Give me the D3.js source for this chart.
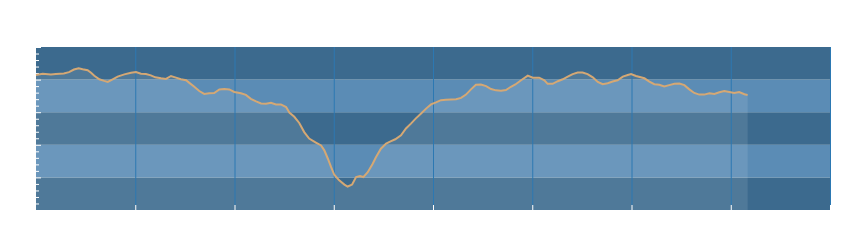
<!DOCTYPE html>
<html>
<head>
<meta charset="utf-8">
<script src="https://cdn.jsdelivr.net/npm/d3@7"></script>
<style>
  body { margin: 0; background: #fff; }
  .axis path { display: none; }
  .axis line { stroke: #fff; }
  .grid line { stroke: #2c78b2; }
</style>
</head>
<body>
<div id="chart"></div>
<script>
const xs = [0, 1.35, 3.0, 4.0, 5.6, 6.65, 7.65, 8.6, 9.4, 10.4, 11.1, 11.75, 12.75, 13.75, 14.45, 15.45, 16.45, 17.8, 19.15, 20.15,
  21.15, 22.15, 23.15, 24.05, 25.2, 26.2, 27.2, 28.2, 29.2, 30.25, 30.9, 31.9, 32.9, 33.9, 34.9, 35.9, 36.95, 37.95, 38.95, 39.95,
  41.3, 42.3, 43.3, 44.35, 45.35, 46.35, 47.35, 48.35, 49.35, 50.4, 51.05, 52.05, 53.05, 54.05, 55.05, 56.4, 57.45, 58.1, 58.8, 59.45,
  60.1, 61.1, 62.15, 62.8, 63.7, 64.5, 65.3, 65.95, 66.85, 67.85, 68.5, 69.5, 70.55, 71.55, 72.4, 73.55, 74.55, 75.55, 76.55, 77.6,
  78.6, 79.6, 80.6, 81.6, 82.6, 83.65, 84.65, 85.65, 86.65, 87.65, 88.65, 89.65, 90.7, 91.7, 92.7, 93.7, 94.7, 95.7, 96.6, 97.75,
  99.1, 100.1, 101.4, 102.45, 103.1, 104.1, 105.15, 106.15, 107.15, 108.15, 109.15, 110.15, 111.15, 112.2, 113.2, 114.2, 115.2, 116.2, 117.2, 118.25,
  119.25, 119.9, 120.9, 122.6, 123.6, 124.6, 125.6, 126.6, 127.6, 128.65, 129.65, 130.65, 131.65, 132.65, 133.65, 134.65, 135.7, 136.7, 137.7, 138.7,
  139.7, 140.7, 141.7, 142.75, 143.4];
const values = [20.7, 20.9, 20.8, 20.85, 20.95, 21.15, 21.55, 21.75, 21.6, 21.45, 21.05, 20.6, 20.05, 19.8, 19.65, 20.05, 20.45, 20.8, 21.05, 21.15,
  20.9, 20.85, 20.65, 20.35, 20.2, 20.1, 20.55, 20.3, 20.05, 19.9, 19.5, 18.9, 18.25, 17.8, 17.9, 17.95, 18.5, 18.55, 18.5, 18.1,
  17.9, 17.65, 17.05, 16.65, 16.35, 16.3, 16.45, 16.2, 16.2, 15.8, 14.95, 14.3, 13.35, 11.95, 10.95, 10.35, 9.9, 9.15, 7.9, 6.6,
  5.4, 4.55, 3.9, 3.6, 3.9, 5.05, 5.2, 5.05, 5.8, 7.1, 8.1, 9.4, 10.2, 10.55, 10.85, 11.45, 12.5, 13.25, 14.05, 14.8,
  15.55, 16.2, 16.5, 16.85, 16.9, 16.95, 17.0, 17.2, 17.7, 18.5, 19.2, 19.25, 19.0, 18.55, 18.35, 18.3, 18.4, 18.9, 19.25, 19.9,
  20.6, 20.3, 20.3, 19.9, 19.35, 19.35, 19.75, 20.05, 20.45, 20.85, 21.1, 21.1, 20.85, 20.35, 19.65, 19.3, 19.45, 19.7, 19.9, 20.45,
  20.7, 20.85, 20.55, 20.2, 19.7, 19.3, 19.2, 18.95, 19.15, 19.35, 19.4, 19.15, 18.5, 17.95, 17.7, 17.7, 17.9, 17.8, 18.05, 18.25,
  18.1, 17.95, 18.1, 17.75, 17.65];
const bandEdges = [0, 5, 10, 15, 20, 25];
const minorTicks = d3.range(0, 26);
const xTicks = [20, 40, 60, 80, 100, 120, 140, 160];

const margin = {left: 36, top: 47, right: 20, bottom: 30};
const width = 794,
      height = 163;

const x = d3.scaleLinear().domain([0, 160]).range([0, width]);
const y = d3.scaleLinear().domain([0, 25]).range([height, 0]);

const svg = d3.select('#chart').append('svg').attr('width', 850).attr('height', 240);
const chartGroup = svg.append('g').attr('transform', 'translate(' + margin.left + ',' + margin.top + ')');

// horizontal bands, dark / light alternating
chartGroup.selectAll('rect.band')
    .data(d3.pairs(bandEdges))
    .enter().append('rect')
    .attr('class', 'band')
    .attr('x', 0)
    .attr('width', width)
    .attr('y', (d) => y(d[1]))
    .attr('height', (d) => y(d[0]) - y(d[1]))
    .attr('fill', (d, i) => i % 2 === 0 ? '#3c6a8e' : '#5b8cb5');

const points = xs.map((d, i) => [d, values[i]]);

const area = d3.area()
    .x((d) => x(d[0]))
    .y0(height)
    .y1((d) => y(d[1]));

chartGroup.append('path')
    .attr('d', area(points))
    .attr('fill', '#fff')
    .attr('fill-opacity', 0.1);

// vertical grid, stops short of the bottom ticks
chartGroup.append('g').attr('class', 'grid')
    .attr('transform', 'translate(0,' + (height - 5) + ')')
    .call(d3.axisTop(x).tickValues(xTicks).tickSize(height - 5).tickFormat(''))
    .call((g) => g.select('.domain').remove());

chartGroup.append('g').attr('class', 'axis x')
    .attr('transform', 'translate(0,' + height + ')')
    .call(d3.axisTop(x).tickValues(xTicks.slice(0, -1)).tickSize(5).tickFormat(''));

chartGroup.append('g').attr('class', 'axis y')
    .call(d3.axisRight(y).tickValues(minorTicks.filter((d) => d % 5 !== 0)).tickSize(3).tickFormat(''));

chartGroup.append('g').attr('class', 'axis y major')
    .call(d3.axisRight(y).tickValues(bandEdges.slice(1)).tickSize(5).tickFormat(''));

const line = d3.line()
    .x((d) => x(d[0]))
    .y((d) => y(d[1]));

chartGroup.append('path')
    .attr('d', line(points))
    .attr('fill', 'none')
    .attr('stroke', '#d5a874')
    .attr('stroke-width', 2);
</script>
</body>
</html>
